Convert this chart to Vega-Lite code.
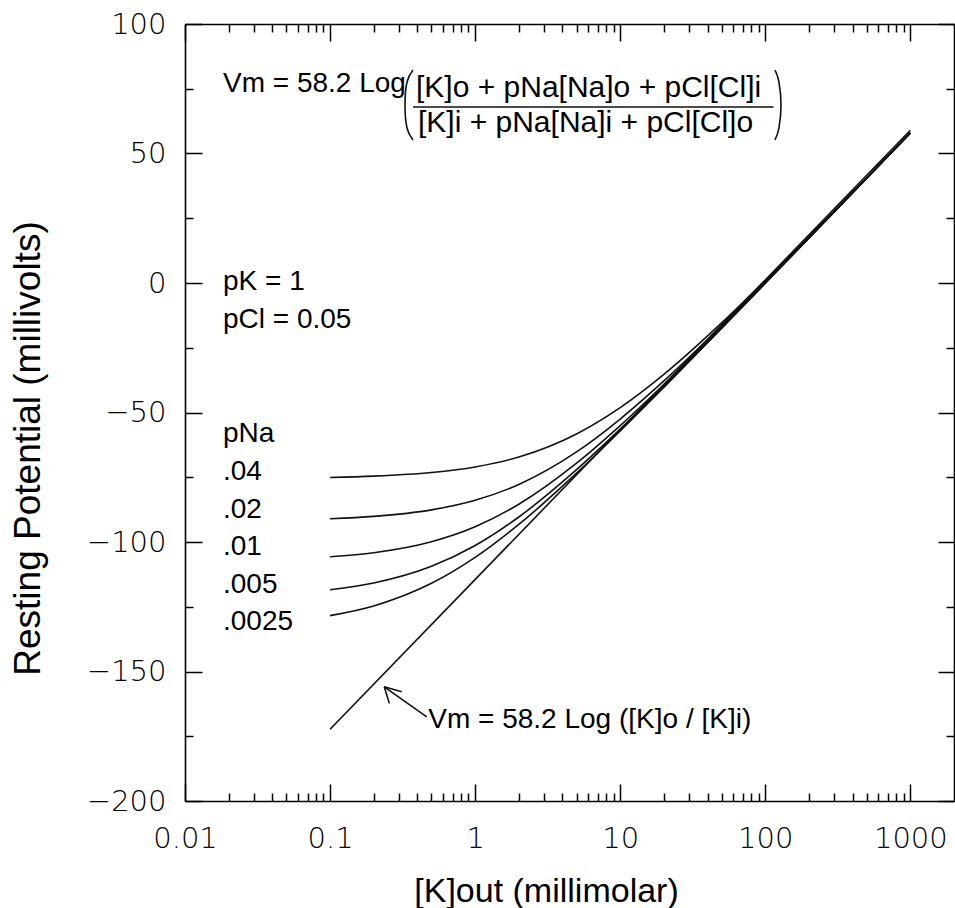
{
  "$schema": "https://vega.github.io/schema/vega-lite/v6.json",
  "width": 769,
  "height": 777,
  "autosize": "none",
  "padding": {"left": 185, "top": 24, "right": 1, "bottom": 107},
  "background": "white",
  "config": {"view": {"stroke": null}, "axis": {"grid": false}, "font": "Liberation Sans"},
  "datasets": {
    "c": [
      {"k": 0.1, "v": -75.07, "s": ".04"}, {"k": 0.2, "v": -74.58, "s": ".04"}, {"k": 0.5, "v": -73.19, "s": ".04"}, {"k": 1, "v": -71.03, "s": ".04"}, {"k": 2, "v": -67.2, "s": ".04"}, {"k": 5, "v": -58.29, "s": ".04"}, {"k": 10, "v": -48.13, "s": ".04"}, {"k": 20, "v": -35.29, "s": ".04"}, {"k": 50, "v": -15.42, "s": ".04"}, {"k": 100, "v": 0.91, "s": ".04"}, {"k": 200, "v": 17.81, "s": ".04"}, {"k": 500, "v": 40.58, "s": ".04"}, {"k": 1000, "v": 57.98, "s": ".04"},
      {"k": 0.1, "v": -91.01, "s": ".02"}, {"k": 0.2, "v": -90.11, "s": ".02"}, {"k": 0.5, "v": -87.6, "s": ".02"}, {"k": 1, "v": -83.89, "s": ".02"}, {"k": 2, "v": -77.79, "s": ".02"}, {"k": 5, "v": -65.23, "s": ".02"}, {"k": 10, "v": -52.53, "s": ".02"}, {"k": 20, "v": -37.82, "s": ".02"}, {"k": 50, "v": -16.51, "s": ".02"}, {"k": 100, "v": 0.36, "s": ".02"}, {"k": 200, "v": 17.55, "s": ".02"}, {"k": 500, "v": 40.51, "s": ".02"}, {"k": 1000, "v": 57.97, "s": ".02"},
      {"k": 0.1, "v": -105.71, "s": ".01"}, {"k": 0.2, "v": -104.13, "s": ".01"}, {"k": 0.5, "v": -99.89, "s": ".01"}, {"k": 1, "v": -94.1, "s": ".01"}, {"k": 2, "v": -85.43, "s": ".01"}, {"k": 5, "v": -69.59, "s": ".01"}, {"k": 10, "v": -55.07, "s": ".01"}, {"k": 20, "v": -39.2, "s": ".01"}, {"k": 50, "v": -17.08, "s": ".01"}, {"k": 100, "v": 0.09, "s": ".01"}, {"k": 200, "v": 17.43, "s": ".01"}, {"k": 500, "v": 40.48, "s": ".01"}, {"k": 1000, "v": 57.96, "s": ".01"},
      {"k": 0.1, "v": -118.42, "s": ".005"}, {"k": 0.2, "v": -115.84, "s": ".005"}, {"k": 0.5, "v": -109.4, "s": ".005"}, {"k": 1, "v": -101.35, "s": ".005"}, {"k": 2, "v": -90.34, "s": ".005"}, {"k": 5, "v": -72.09, "s": ".005"}, {"k": 10, "v": -56.44, "s": ".005"}, {"k": 20, "v": -39.91, "s": ".005"}, {"k": 50, "v": -17.37, "s": ".005"}, {"k": 100, "v": -0.05, "s": ".005"}, {"k": 200, "v": 17.36, "s": ".005"}, {"k": 500, "v": 40.46, "s": ".005"}, {"k": 1000, "v": 57.96, "s": ".005"},
      {"k": 0.1, "v": -128.42, "s": ".0025"}, {"k": 0.2, "v": -124.68, "s": ".0025"}, {"k": 0.5, "v": -115.96, "s": ".0025"}, {"k": 1, "v": -105.94, "s": ".0025"}, {"k": 2, "v": -93.22, "s": ".0025"}, {"k": 5, "v": -73.44, "s": ".0025"}, {"k": 10, "v": -57.16, "s": ".0025"}, {"k": 20, "v": -40.28, "s": ".0025"}, {"k": 50, "v": -17.51, "s": ".0025"}, {"k": 100, "v": -0.12, "s": ".0025"}, {"k": 200, "v": 17.33, "s": ".0025"}, {"k": 500, "v": 40.45, "s": ".0025"}, {"k": 1000, "v": 57.96, "s": ".0025"},
      {"k": 0.1, "v": -172.3, "s": "K"}, {"k": 1000, "v": 59.0, "s": "K"}
    ],
    "t": [
      {"k": 0.01827, "v": 73.75, "t": "Vm = 58.2 Log"},
      {"k": 0.01827, "v": -2.7, "t": "pK = 1"},
      {"k": 0.01827, "v": -17.49, "t": "pCl = 0.05"},
      {"k": 0.01827, "v": -61.27, "t": "pNa"},
      {"k": 0.01827, "v": -76.06, "t": ".04"},
      {"k": 0.01827, "v": -90.6, "t": ".02"},
      {"k": 0.01827, "v": -105.0, "t": ".01"},
      {"k": 0.01827, "v": -119.6, "t": ".005"},
      {"k": 0.01827, "v": -134.0, "t": ".0025"},
      {"k": 0.4754, "v": -171.9, "t": "Vm = 58.2 Log ([K]o / [K]i)"}
    ],
    "f": [
      {"k": 0.3912, "v": 71.81, "t": "[K]o + pNa[Na]o + pCl[Cl]i"},
      {"k": 0.4037, "v": 58.3, "t": "[K]i + pNa[Na]i + pCl[Cl]o"}
    ],
    "p": [
      {"k": 0.3729, "v": 82.24, "g": "L", "i": 0}, {"k": 0.3391, "v": 77.61, "g": "L", "i": 1}, {"k": 0.3285, "v": 68.73, "g": "L", "i": 2}, {"k": 0.3391, "v": 59.85, "g": "L", "i": 3}, {"k": 0.3729, "v": 55.21, "g": "L", "i": 4},
      {"k": 116.7, "v": 82.24, "g": "R", "i": 0}, {"k": 124.3, "v": 77.61, "g": "R", "i": 1}, {"k": 128.4, "v": 68.73, "g": "R", "i": 2}, {"k": 124.3, "v": 59.85, "g": "R", "i": 3}, {"k": 116.7, "v": 55.21, "g": "R", "i": 4}
    ],
    "a": [
      {"k": 0.2365, "v": -155.9, "k2": 0.4636, "v2": -167.5},
      {"k": 0.2365, "v": -155.9, "k2": 0.3118, "v2": -157.8},
      {"k": 0.2365, "v": -155.9, "k2": 0.2561, "v2": -162.3},
      {"k": 0.3729, "v": 67.95, "k2": 114.0, "v2": 67.95}
    ]
  },
  "layer": [
    {
      "data": {"name": "c"},
      "mark": {"type": "line", "interpolate": "monotone", "color": "#111", "strokeWidth": 1.6},
      "encoding": {
        "x": {
          "field": "k", "type": "quantitative",
          "scale": {"type": "log", "domain": [0.01, 2000]},
          "axis": {
            "orient": "bottom",
            "values": [0.01, 0.1, 1, 10, 100, 1000],
            "tickSize": -17, "labelPadding": 40,
            "labelExpr": "format(datum.value, '~g')",
            "labelFont": "DejaVu Sans", "labelFontWeight": 200, "labelFontSize": 29, "labelColor": "#000",
            "labelFlush": false, "labelOverlap": false,
            "domainColor": "#000", "domainWidth": 1.6, "tickColor": "#000", "tickWidth": 1.5,
            "title": "[K]out (millimolar)", "titleFont": "Liberation Sans", "titleFontSize": 34, "titleFontWeight": "normal", "titleColor": "#000",
            "titleX": 361, "titleY": 100, "titleBaseline": "alphabetic", "titleAlign": "center"
          }
        },
        "y": {
          "field": "v", "type": "quantitative",
          "scale": {"domain": [-200, 100]},
          "axis": {
            "orient": "left",
            "values": [-200, -150, -100, -50, 0, 50, 100],
            "tickSize": -17, "labelPadding": 36,
            "labelFont": "DejaVu Sans", "labelFontWeight": 200, "labelFontSize": 29, "labelColor": "#000",
            "labelFlush": false, "labelOverlap": false,
            "domainColor": "#000", "domainWidth": 1.6, "tickColor": "#000", "tickWidth": 1.5,
            "title": "Resting Potential (millivolts)", "titleFont": "Liberation Sans", "titleFontSize": 37, "titleFontWeight": "normal", "titleColor": "#000",
            "titleX": -146, "titleY": 424, "titleBaseline": "alphabetic", "titleAlign": "center", "titleAngle": 270
          }
        },
        "detail": {"field": "s"}
      }
    },
    {
      "data": {"name": "t"},
      "mark": {"type": "text", "align": "left", "baseline": "alphabetic", "font": "Liberation Sans", "fontSize": 28, "color": "#000"},
      "encoding": {
        "x": {
          "field": "k", "type": "quantitative",
          "scale": {"type": "log", "domain": [0.01, 2000]},
          "axis": {
            "orient": "top",
            "values": [0.01, 0.1, 1, 10, 100, 1000],
            "labels": false, "title": null, "tickSize": -17,
            "domainColor": "#000", "domainWidth": 1.6, "tickColor": "#000", "tickWidth": 1.5
          }
        },
        "y": {
          "field": "v", "type": "quantitative",
          "scale": {"domain": [-200, 100]},
          "axis": {
            "orient": "right",
            "values": [-200, -150, -100, -50, 0, 50, 100],
            "labels": false, "title": null, "tickSize": -16,
            "domainColor": "#000", "domainWidth": 1.6, "tickColor": "#000", "tickWidth": 1.5
          }
        },
        "text": {"field": "t"}
      }
    },
    {
      "data": {"name": "f"},
      "mark": {"type": "text", "align": "left", "baseline": "alphabetic", "font": "Liberation Sans", "fontSize": 30, "color": "#000"},
      "encoding": {
        "x": {
          "field": "k", "type": "quantitative",
          "scale": {"type": "log", "domain": [0.01, 2000]},
          "axis": {
            "orient": "bottom",
            "values": [0.02,0.03,0.04,0.05,0.06,0.07,0.08,0.09,0.2,0.3,0.4,0.5,0.6,0.7,0.8,0.9,2,3,4,5,6,7,8,9,20,30,40,50,60,70,80,90,200,300,400,500,600,700,800,900],
            "labels": false, "title": null, "tickSize": -8, "domain": false,
            "tickColor": "#000", "tickWidth": 1.5
          }
        },
        "y": {
          "field": "v", "type": "quantitative",
          "scale": {"domain": [-200, 100]},
          "axis": {
            "orient": "left",
            "values": [-175, -125, -75, -25, 25, 75],
            "labels": false, "title": null, "tickSize": -8, "domain": false,
            "tickColor": "#000", "tickWidth": 1.5
          }
        },
        "text": {"field": "t"}
      }
    },
    {
      "data": {"name": "p"},
      "mark": {"type": "line", "interpolate": "cardinal", "color": "#111", "strokeWidth": 1.6},
      "encoding": {
        "x": {
          "field": "k", "type": "quantitative",
          "scale": {"type": "log", "domain": [0.01, 2000]},
          "axis": {
            "orient": "top",
            "values": [0.02,0.03,0.04,0.05,0.06,0.07,0.08,0.09,0.2,0.3,0.4,0.5,0.6,0.7,0.8,0.9,2,3,4,5,6,7,8,9,20,30,40,50,60,70,80,90,200,300,400,500,600,700,800,900],
            "labels": false, "title": null, "tickSize": -8, "domain": false,
            "tickColor": "#000", "tickWidth": 1.5
          }
        },
        "y": {
          "field": "v", "type": "quantitative",
          "scale": {"domain": [-200, 100]},
          "axis": {
            "orient": "right",
            "values": [-175, -125, -75, -25, 25, 75],
            "labels": false, "title": null, "tickSize": -8, "domain": false,
            "tickColor": "#000", "tickWidth": 1.5
          }
        },
        "detail": {"field": "g"},
        "order": {"field": "i"}
      }
    },
    {
      "data": {"name": "a"},
      "mark": {"type": "rule", "color": "#111", "strokeWidth": 1.6},
      "encoding": {
        "x": {"field": "k", "type": "quantitative", "scale": {"type": "log", "domain": [0.01, 2000]}, "axis": null},
        "y": {"field": "v", "type": "quantitative", "scale": {"domain": [-200, 100]}, "axis": null},
        "x2": {"field": "k2"},
        "y2": {"field": "v2"}
      }
    }
  ],
  "resolve": {"axis": {"x": "independent", "y": "independent"}}
}
